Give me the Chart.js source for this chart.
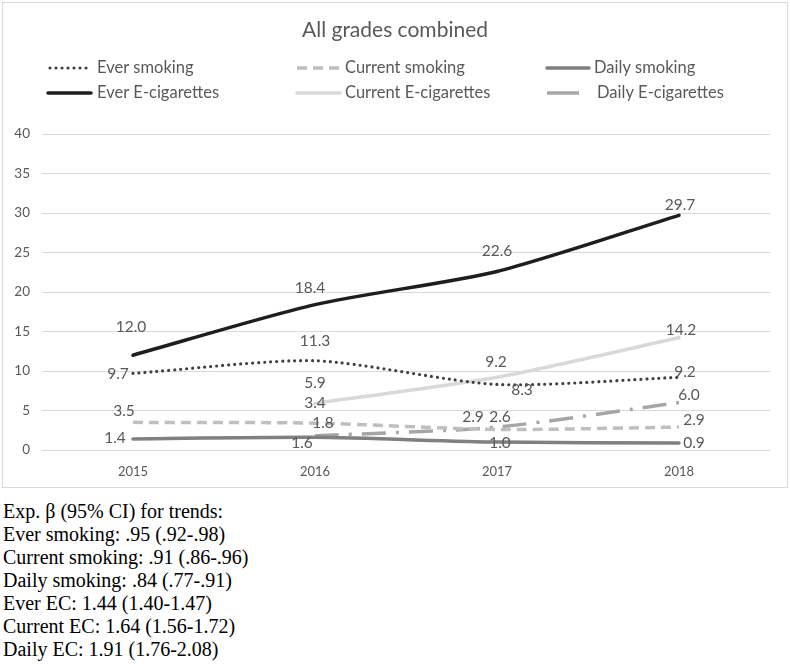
<!DOCTYPE html>
<html>
<head>
<meta charset="utf-8">
<script src="https://cdn.jsdelivr.net/npm/chart.js@4.4.1/dist/chart.umd.min.js"></script>
<style>
  html, body { margin: 0; padding: 0; background: #ffffff; width: 790px; height: 670px; overflow: hidden; }
  #frame { position: absolute; left: 2px; top: 2px; width: 784px; height: 484px; border: 1px solid #d9d9d9; }
  #frame canvas { display: block; }
  #notes { position: absolute; left: 3px; top: 500px; font-family: "Liberation Serif", "Times New Roman", serif; font-size: 20px; line-height: 23px; color: #000; white-space: nowrap; }
</style>
</head>
<body>
<div id="frame"><canvas id="c" width="784" height="484"></canvas></div>
<div id="notes">
  <div>Exp. β (95% CI) for trends:</div>
  <div>Ever smoking: .95 (.92-.98)</div>
  <div>Current smoking: .91 (.86-.96)</div>
  <div>Daily smoking: .84 (.77-.91)</div>
  <div>Ever EC: 1.44 (1.40-1.47)</div>
  <div>Current EC: 1.64 (1.56-1.72)</div>
  <div>Daily EC: 1.91 (1.76-2.08)</div>
</div>
<script>
// ---- data ----
const years = ['2015', '2016', '2017', '2018'];
const everSmoking = [9.7, 11.3, 8.3, 9.2];
const currentSmoking = [3.5, 3.4, 2.6, 2.9];
const dailySmoking = [1.4, 1.6, 1.0, 0.9];
const everEC = [12.0, 18.4, 22.6, 29.7];
const currentEC = [null, 5.9, 9.2, 14.2];
const dailyEC = [null, 1.8, 2.9, 6.0];
const yTicks = [0, 5, 10, 15, 20, 25, 30, 35, 40];
const chartTitle = 'All grades combined';
const seriesNames = ['Ever smoking', 'Current smoking', 'Daily smoking', 'Ever E-cigarettes', 'Current E-cigarettes', 'Daily E-cigarettes'];

// ---- styles (label offsets in px relative to each point) ----
const labelOffsets = [
  [[-15, 1], [0, -20], [25, 6], [6, -5]],
  [[-9, -11], [0, -20], [3, -12], [15, -7]],
  [[-18, -1], [-13, 6], [3, 1], [15, 0]],
  [[-2, -28], [-5, -17], [0, -20], [1, -10]],
  [null, [0, -20], [-1, -15], [2, -8]],
  [null, [8, -13], [-24, -10], [10, -8]]
];
const styles = [
  { color: '#404040', width: 3.2, dash: [0, 6], cap: 'round' },
  { color: '#bfbfbf', width: 3.5, dash: [10, 6], cap: 'butt' },
  { color: '#808080', width: 3.5, dash: [], cap: 'round' },
  { color: '#1e1e1e', width: 3.5, dash: [], cap: 'round' },
  { color: '#d9d9d9', width: 3.5, dash: [], cap: 'round' },
  { color: '#a6a6a6', width: 3.5, dash: [24, 10, 3, 10], cap: 'butt' }
];
const seriesData = [everSmoking, currentSmoking, dailySmoking, everEC, currentEC, dailyEC];
const FONT = 'Lato, "Open Sans", sans-serif';
const TEXT = '#595959';

const datasets = seriesData.map((d, i) => ({
  label: seriesNames[i],
  data: d,
  borderColor: styles[i].color,
  backgroundColor: styles[i].color,
  borderWidth: styles[i].width,
  borderDash: styles[i].dash,
  borderCapStyle: styles[i].cap,
  borderJoinStyle: 'round',
  pointRadius: 0,
  pointHoverRadius: 0,
  tension: 0.25,
  fill: false
}));

// legend grid (canvas coords)
const legendCols = [{ s: 45, e: 88, t: 94 }, { s: 294, e: 337, t: 342 }, { s: 544, e: 586, t: 591 }];
const legendRows = [65, 90];

const decorPlugin = {
  id: 'decor',
  afterDraw(chart) {
    const ctx = chart.ctx;
    ctx.save();
    // title
    ctx.fillStyle = TEXT;
    ctx.font = '21px ' + FONT;
    ctx.textAlign = 'center';
    ctx.textBaseline = 'middle';
    ctx.fillText(chartTitle, 392, 27);
    // legend
    ctx.font = '16.5px ' + FONT;
    ctx.textAlign = 'left';
    chart.data.datasets.forEach((ds, i) => {
      const col = legendCols[i % 3];
      const y = legendRows[Math.floor(i / 3)];
      const st = styles[i];
      ctx.beginPath();
      ctx.strokeStyle = st.color;
      ctx.lineWidth = st.width;
      ctx.lineCap = st.cap;
      ctx.setLineDash(i === 5 ? [] : st.dash);
      const end = i === 5 ? col.s + 32 : col.e;
      ctx.moveTo(col.s + (st.cap === 'round' && st.dash.length ? 2 : 0), y);
      ctx.lineTo(end, y);
      ctx.stroke();
      ctx.setLineDash([]);
      ctx.fillStyle = TEXT;
      ctx.fillText(ds.label, col.t + (i === 5 ? 3 : 0), y);
    });
    ctx.restore();
  },
  afterDatasetsDraw(chart) {
    const ctx = chart.ctx;
    ctx.save();
    ctx.font = '15.5px ' + FONT;
    ctx.fillStyle = TEXT;
    ctx.textAlign = 'center';
    ctx.textBaseline = 'middle';
    chart.data.datasets.forEach((ds, i) => {
      const meta = chart.getDatasetMeta(i);
      meta.data.forEach((pt, j) => {
        const v = ds.data[j];
        if (v === null || v === undefined) return;
        const off = labelOffsets[i][j] || [0, -15];
        ctx.fillText(v.toFixed(1), pt.x + off[0], pt.y + off[1]);
      });
    });
    ctx.restore();
  }
};

new Chart(document.getElementById('c'), {
  type: 'line',
  data: { labels: years, datasets },
  options: {
    responsive: false,
    animation: false,
    events: [],
    layout: { padding: { top: 131, right: 17, bottom: 7, left: 0 } },
    plugins: { legend: { display: false }, title: { display: false }, tooltip: { enabled: false } },
    scales: {
      x: {
        offset: true,
        grid: { display: false, drawTicks: false },
        border: { display: false },
        ticks: { color: TEXT, font: { family: FONT, size: 13 }, padding: 14 },
        afterFit(s) { s.height = 30; }
      },
      y: {
        min: 0, max: 40,
        afterBuildTicks(s) { s.ticks = yTicks.map(v => ({ value: v })); },
        grid: { color: '#d9d9d9', lineWidth: 1, drawTicks: false },
        border: { display: false },
        ticks: { color: TEXT, font: { family: FONT, size: 13.5 }, padding: 12 },
        afterFit(s) { s.width = 39; }
      }
    }
  },
  plugins: [decorPlugin]
});
</script>
</body>
</html>
